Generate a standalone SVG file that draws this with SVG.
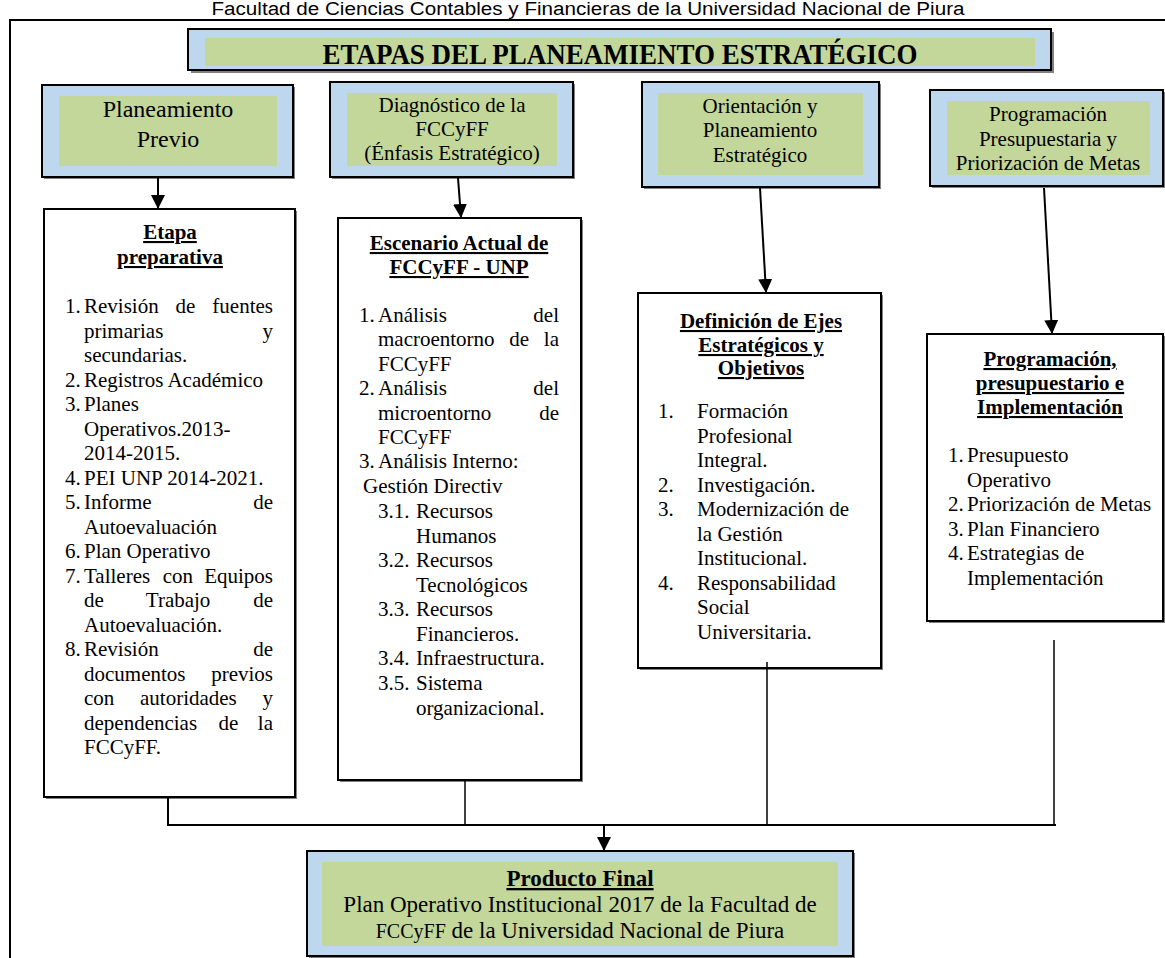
<svg xmlns="http://www.w3.org/2000/svg" width="1165" height="958" viewBox="0 0 1165 958">
<defs>
<style>
.bl{fill:#BDD7EE;stroke:#000;stroke-width:2}
.gr{fill:#C4D79B}
.wh{fill:#fff;stroke:#000;stroke-width:2}
.sh{fill:#808080}
.t{font-family:"Liberation Serif","Times New Roman",serif;font-size:21px;fill:#000}
.c{text-anchor:middle}
.e{text-anchor:end}
.h{font-weight:bold;text-decoration:underline}
.ln{stroke:#000;stroke-width:2;fill:none}
.thin{stroke:#000;stroke-width:1.5;fill:none}
</style>
<marker id="ah" markerUnits="userSpaceOnUse" markerWidth="14" markerHeight="14" refX="13" refY="7" orient="auto">
<path d="M0,0 L14,7 L0,14 z" fill="#000"/>
</marker>
<clipPath id="tclip"><rect x="205" y="36" width="830" height="32"/></clipPath>
</defs>
<rect width="1165" height="958" fill="#fff"/>
<text x="588" y="15" font-family="Liberation Sans, Arial, sans-serif" font-size="18" textLength="753" lengthAdjust="spacingAndGlyphs" text-anchor="middle">Facultad de Ciencias Contables y Financieras de la Universidad Nacional de Piura</text>
<g id="frame"><path class="ln" d="M10,958 V20 H1165"/></g>

<g id="title">
<rect class="sh" x="191" y="32" width="863" height="41"/>
<rect class="bl" x="188" y="29" width="863" height="41"/>
<rect class="gr" x="205" y="38" width="830" height="28"/>
<text x="620" y="64" clip-path="url(#tclip)" font-family="Liberation Serif, Times New Roman, serif" font-weight="bold" font-size="30" textLength="595" lengthAdjust="spacingAndGlyphs" text-anchor="middle">ETAPAS DEL PLANEAMIENTO ESTRATÉGICO</text>
</g>

<g id="n-previo">
<rect class="sh" x="44" y="87" width="251" height="92"/>
<rect class="bl" x="42" y="85" width="251" height="92"/>
<rect class="gr" x="59" y="96" width="218" height="70"/>
<text class="t c" x="168" y="117" style="font-size:24px">Planeamiento</text>
<text class="t c" x="168" y="147" style="font-size:24px">Previo</text>
</g>

<g id="n-diag">
<rect class="sh" x="332" y="84" width="243" height="95"/>
<rect class="bl" x="330" y="82" width="243" height="95"/>
<rect class="gr" x="347" y="93" width="210" height="73"/>
<text class="t c" x="452" y="112">Diagnóstico de la</text>
<text class="t c" x="452" y="136">FCCyFF</text>
<text class="t c" x="452" y="160">(Énfasis Estratégico)</text>
</g>

<g id="n-orient">
<rect class="sh" x="644" y="84" width="237" height="105"/>
<rect class="bl" x="642" y="82" width="237" height="105"/>
<rect class="gr" x="658" y="93" width="205" height="82"/>
<text class="t c" x="760" y="113">Orientación y</text>
<text class="t c" x="760" y="137">Planeamiento</text>
<text class="t c" x="760" y="162">Estratégico</text>
</g>

<g id="n-prog">
<rect class="sh" x="932" y="92" width="233" height="96"/>
<rect class="bl" x="930" y="90" width="233" height="96"/>
<rect class="gr" x="947" y="101" width="203" height="74"/>
<text class="t c" x="1048" y="121">Programación</text>
<text class="t c" x="1048" y="146">Presupuestaria y</text>
<text class="t c" x="1048" y="170">Priorización de Metas</text>
</g>

<g id="n-etapa">
<rect class="sh" x="46" y="211" width="251" height="588"/>
<rect class="wh" x="44" y="209" width="251" height="588"/>
<text class="t c h" x="170" y="239">Etapa</text>
<text class="t c h" x="170" y="264">preparativa</text>
<g class="t">
<text x="65" y="313">1.</text><text x="84" y="313">Revisión</text><text x="175.6" y="313">de</text><text class="e" x="273" y="313">fuentes</text>
<text x="84" y="337.5">primarias</text><text class="e" x="273" y="337.5">y</text>
<text x="84" y="362">secundarias.</text>
<text x="65" y="386.5">2.</text><text x="84" y="386.5">Registros Académico</text>
<text x="65" y="411">3.</text><text x="84" y="411">Planes</text>
<text x="84" y="435.5">Operativos.2013-</text>
<text x="84" y="460">2014-2015.</text>
<text x="65" y="484.5">4.</text><text x="84" y="484.5">PEI UNP 2014-2021.</text>
<text x="65" y="509">5.</text><text x="84" y="509">Informe</text><text class="e" x="273" y="509">de</text>
<text x="84" y="533.5">Autoevaluación</text>
<text x="65" y="558">6.</text><text x="84" y="558">Plan Operativo</text>
<text x="65" y="582.5">7.</text><text x="84" y="582.5">Talleres</text><text x="162.8" y="582.5">con</text><text class="e" x="273" y="582.5">Equipos</text>
<text x="84" y="607">de</text><text x="145.8" y="607">Trabajo</text><text class="e" x="273" y="607">de</text>
<text x="84" y="631.5">Autoevaluación.</text>
<text x="65" y="656">8.</text><text x="84" y="656">Revisión</text><text class="e" x="273" y="656">de</text>
<text x="84" y="680.5">documentos</text><text class="e" x="273" y="680.5">previos</text>
<text x="84" y="705">con</text><text x="140" y="705">autoridades</text><text class="e" x="273" y="705">y</text>
<text x="84" y="729.5">dependencias</text><text x="218.4" y="729.5">de</text><text class="e" x="273" y="729.5">la</text>
<text x="84" y="754">FCCyFF.</text>
</g>
</g>

<g id="n-escenario">
<rect class="sh" x="340" y="220" width="243" height="562"/>
<rect class="wh" x="338" y="218" width="243" height="562"/>
<text class="t c h" x="459" y="250">Escenario Actual de</text>
<text class="t c h" x="459" y="274">FCCyFF - UNP</text>
<g class="t">
<text x="359" y="322">1.</text><text x="378" y="322">Análisis</text><text class="e" x="559" y="322">del</text>
<text x="378" y="346">macroentorno</text><text x="509.3" y="346">de</text><text class="e" x="559" y="346">la</text>
<text x="378" y="371">FCCyFF</text>
<text x="359" y="395">2.</text><text x="378" y="395">Análisis</text><text class="e" x="559" y="395">del</text>
<text x="378" y="420">microentorno</text><text class="e" x="559" y="420">de</text>
<text x="378" y="444">FCCyFF</text>
<text x="359" y="468">3.</text><text x="378" y="468">Análisis Interno:</text>
<text x="363" y="493">Gestión Directiv</text>
<text x="378" y="518">3.1.</text><text x="416" y="518">Recursos</text>
<text x="416" y="543">Humanos</text>
<text x="378" y="567">3.2.</text><text x="416" y="567">Recursos</text>
<text x="416" y="592">Tecnológicos</text>
<text x="378" y="616">3.3.</text><text x="416" y="616">Recursos</text>
<text x="416" y="641">Financieros.</text>
<text x="378" y="665">3.4.</text><text x="416" y="665">Infraestructura.</text>
<text x="378" y="690">3.5.</text><text x="416" y="690">Sistema</text>
<text x="416" y="715">organizacional.</text>
</g>
</g>

<g id="n-definicion">
<rect class="sh" x="640" y="295" width="243" height="375"/>
<rect class="wh" x="638" y="293" width="243" height="375"/>
<text class="t c h" x="761" y="328">Definición de Ejes</text>
<text class="t c h" x="761" y="352">Estratégicos y</text>
<text class="t c h" x="761" y="375">Objetivos</text>
<g class="t">
<text x="658" y="418">1.</text><text x="697" y="418">Formación</text>
<text x="697" y="443">Profesional</text>
<text x="697" y="467">Integral.</text>
<text x="658" y="492">2.</text><text x="697" y="492">Investigación.</text>
<text x="658" y="516">3.</text><text x="697" y="516">Modernización de</text>
<text x="697" y="541">la Gestión</text>
<text x="697" y="565">Institucional.</text>
<text x="658" y="590">4.</text><text x="697" y="590">Responsabilidad</text>
<text x="697" y="614">Social</text>
<text x="697" y="639">Universitaria.</text>
</g>
</g>

<g id="n-programacion">
<rect class="sh" x="929" y="336" width="236" height="287"/>
<rect class="wh" x="927" y="334" width="236" height="287"/>
<text class="t c h" x="1050" y="366">Programación,</text>
<text class="t c h" x="1050" y="390">presupuestario e</text>
<text class="t c h" x="1050" y="414">Implementación</text>
<g class="t">
<text x="948" y="462">1.</text><text x="967" y="462">Presupuesto</text>
<text x="967" y="487">Operativo</text>
<text x="948" y="511">2.</text><text x="967" y="511">Priorización de Metas</text>
<text x="948" y="536">3.</text><text x="967" y="536">Plan Financiero</text>
<text x="948" y="560">4.</text><text x="967" y="560">Estrategias de</text>
<text x="967" y="585">Implementación</text>
</g>
</g>

<g id="n-final">
<rect class="sh" x="309" y="853" width="546" height="105"/>
<rect class="bl" x="307" y="851" width="546" height="105"/>
<rect class="gr" x="322" y="862" width="516" height="84"/>
<text class="t c h" x="580" y="886" style="font-size:23px">Producto Final</text>
<text class="t c" x="580" y="912" style="font-size:23px">Plan Operativo Institucional 2017 de la Facultad de</text>
<text class="t c" x="580" y="938" style="font-size:23px"><tspan style="font-size:20px">FCCyFF</tspan> de la Universidad Nacional de Piura</text>
</g>

<g id="connectors">
<line class="ln" x1="158" y1="178" x2="158" y2="208" marker-end="url(#ah)"/>
<line class="ln" x1="458" y1="178" x2="461" y2="217" marker-end="url(#ah)"/>
<line class="ln" x1="760" y1="188" x2="766" y2="292" marker-end="url(#ah)"/>
<line class="ln" x1="1044" y1="188" x2="1052" y2="333" marker-end="url(#ah)"/>
<line class="ln" x1="168" y1="798" x2="168" y2="825"/>
<line class="thin" x1="465" y1="781" x2="465" y2="825"/>
<line class="thin" x1="767" y1="662" x2="767" y2="825"/>
<line class="thin" x1="1054" y1="640" x2="1054" y2="825"/>
<line class="ln" x1="167" y1="825" x2="1056" y2="825"/>
<line class="ln" x1="604" y1="825" x2="604" y2="850" marker-end="url(#ah)"/>
</g>
</svg>
